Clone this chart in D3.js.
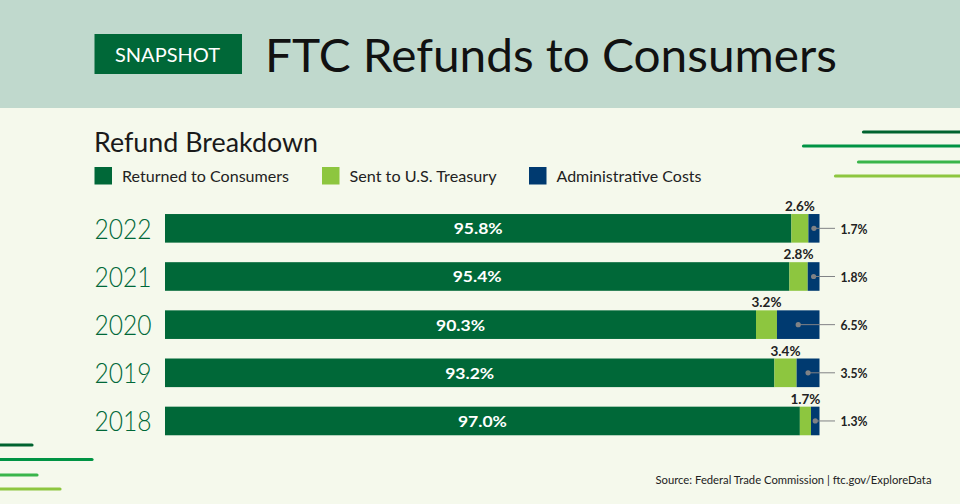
<!DOCTYPE html>
<html>
<head>
<meta charset="utf-8">
<script src="https://cdn.jsdelivr.net/npm/d3@7"></script>
<style>
  html, body { margin: 0; padding: 0; background: #f5f9ec; }
  svg { display: block; }
  text { font-family: Lato, "Open Sans", sans-serif; }
</style>
</head>
<body>
<svg id="chart" width="960" height="504"></svg>
<script>
// chart data
var years = ['2022', '2021', '2020', '2019', '2018'];
var consumers = [95.8, 95.4, 90.3, 93.2, 97.0];
var treasury = [2.6, 2.8, 3.2, 3.4, 1.7];
var admin = [1.7, 1.8, 6.5, 3.5, 1.3];
var seriesNames = ['Returned to Consumers', 'Sent to U.S. Treasury', 'Administrative Costs'];
var seriesKeys = ['consumers', 'treasury', 'admin'];
var colors = ['#006838', '#8dc63f', '#003a70'];

var svg = d3.select('#chart');

// header band
svg.append('rect').attr('width', 960).attr('height', 108).attr('fill', '#c0d9cd');
svg.append('rect').attr('x', 94.5).attr('y', 34).attr('width', 147.5).attr('height', 40).attr('fill', '#006838');
svg.append('text').attr('x', 167.5).attr('y', 61.5).attr('text-anchor', 'middle')
    .attr('fill', '#fff').attr('textLength', 105).attr('lengthAdjust', 'spacingAndGlyphs')
    .style('font-size', '19px').text('SNAPSHOT');
svg.append('text').attr('x', 265).attr('y', 72).attr('fill', '#111')
    .attr('textLength', 572).attr('lengthAdjust', 'spacingAndGlyphs')
    .style('font-size', '46px').text('FTC Refunds to Consumers');

svg.append('text').attr('x', 94).attr('y', 152).attr('fill', '#1a1a1a')
    .attr('textLength', 224).attr('lengthAdjust', 'spacingAndGlyphs')
    .style('font-size', '26px').text('Refund Breakdown');

// legend
var legendX = [94.5, 322, 529];
var legendW = [167, 147, 145];
seriesNames.forEach(function(name, i) {
    svg.append('rect').attr('x', legendX[i]).attr('y', 167).attr('width', 17.5).attr('height', 17.5).attr('fill', colors[i]);
    svg.append('text').attr('x', legendX[i] + 27.5).attr('y', 182).attr('fill', '#222')
        .attr('textLength', legendW[i]).attr('lengthAdjust', 'spacingAndGlyphs')
        .style('font-size', '16px').text(name);
});

// decorative lines
var decoTop = [[863.5, 960, 132, '#00632f'], [803.5, 960, 146, '#009444'], [858.5, 960, 162, '#39b54a'], [835.5, 960, 176, '#8dc63f']];
var decoBottom = [[0, 32, 445, '#00632f'], [0, 92, 459.5, '#009444'], [0, 37, 475, '#39b54a'], [0, 60, 489, '#8dc63f']];
decoTop.concat(decoBottom).forEach(function(d) {
    svg.append('line').attr('x1', d[0]).attr('x2', d[1]).attr('y1', d[2]).attr('y2', d[2])
        .attr('stroke', d[3]).attr('stroke-width', 3.2).attr('stroke-linecap', 'round');
});

// stacked bars
var rows = years.map(function(y, i) {
    return { year: y, consumers: consumers[i], treasury: treasury[i], admin: admin[i] };
});
var stacked = d3.stack().keys(seriesKeys).offset(d3.stackOffsetExpand)(rows);

var x = d3.scaleLinear().domain([0, 1]).range([165, 819.5]);
var y = d3.scaleBand().domain(years).range([204.4, 444.9]).paddingInner(0.406).paddingOuter(0.2);

svg.append('g').selectAll('g')
    .data(stacked)
    .enter().append('g')
    .attr('fill', function(d, i) { return colors[i]; })
    .selectAll('rect')
    .data(function(d) { return d; })
    .enter().append('rect')
    .attr('x', function(d) { return x(d[0]); })
    .attr('y', function(d) { return y(d.data.year); })
    .attr('width', function(d) { return x(d[1]) - x(d[0]); })
    .attr('height', y.bandwidth());

// year labels
svg.append('g').selectAll('text')
    .data(years)
    .enter().append('text')
    .attr('x', 94.5)
    .attr('y', function(d) { return y(d) + y.bandwidth() / 2 + 10.5; })
    .attr('fill', '#006838')
    .attr('textLength', 57).attr('lengthAdjust', 'spacingAndGlyphs')
    .style('font-size', '27px').style('font-weight', 300)
    .text(function(d) { return d; });

// value labels
var fmt = function(v) { return v.toFixed(1) + '%'; };

svg.append('g').selectAll('text')
    .data(stacked[0])
    .enter().append('text')
    .attr('x', function(d) { return (x(d[0]) + x(d[1])) / 2; })
    .attr('y', function(d) { return y(d.data.year) + y.bandwidth() / 2 + 6; })
    .attr('text-anchor', 'middle').attr('fill', '#fff')
    .attr('textLength', 49).attr('lengthAdjust', 'spacingAndGlyphs')
    .style('font-size', '16px').style('font-weight', 700)
    .text(function(d) { return fmt(d.data.consumers); });

svg.append('g').selectAll('text')
    .data(stacked[1])
    .enter().append('text')
    .attr('x', function(d) { return (x(d[0]) + x(d[1])) / 2; })
    .attr('y', function(d) { return y(d.data.year) - 3; })
    .attr('text-anchor', 'middle').attr('fill', '#222')
    .attr('textLength', 30).attr('lengthAdjust', 'spacingAndGlyphs')
    .style('font-size', '14px').style('font-weight', 700)
    .text(function(d) { return fmt(d.data.treasury); });

// admin leaders with dot
var leader = svg.append('g').selectAll('g')
    .data(stacked[2])
    .enter().append('g')
    .attr('transform', function(d) {
        return 'translate(0,' + (y(d.data.year) + y.bandwidth() / 2) + ')';
    });
leader.append('line')
    .attr('x1', function(d) { return (x(d[0]) + x(d[1])) / 2; })
    .attr('x2', 835)
    .attr('stroke', '#808285').attr('stroke-width', 1);
leader.append('circle')
    .attr('cx', function(d) { return (x(d[0]) + x(d[1])) / 2; })
    .attr('r', 2.6).attr('fill', '#808285');
leader.append('text')
    .attr('x', 840.5).attr('y', 5.5)
    .attr('fill', '#222')
    .attr('textLength', 27).attr('lengthAdjust', 'spacingAndGlyphs')
    .style('font-size', '14px').style('font-weight', 700)
    .text(function(d) { return fmt(d.data.admin); });

// source
svg.append('text').attr('x', 931.5).attr('y', 484).attr('text-anchor', 'end')
    .attr('fill', '#222').attr('textLength', 276).attr('lengthAdjust', 'spacingAndGlyphs')
    .style('font-size', '11px')
    .text('Source: Federal Trade Commission | ftc.gov/ExploreData');
</script>
</body>
</html>
